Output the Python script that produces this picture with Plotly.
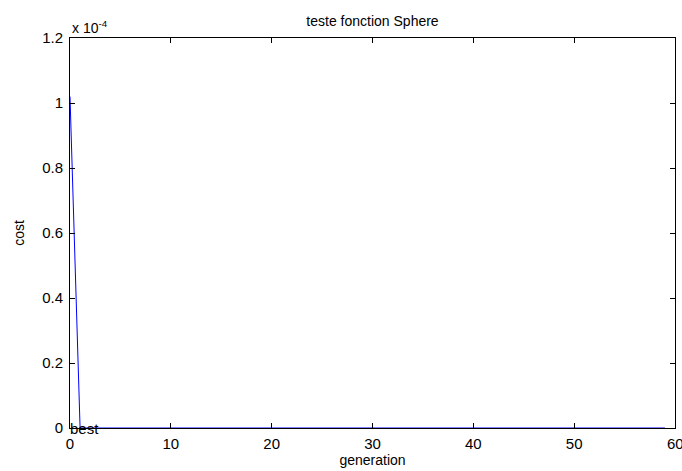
import plotly.graph_objects as go

generation = list(range(0, 60))
cost = [1.02e-4] + [0.0] * 59
y_tickvals = [0, 0.2e-4, 0.4e-4, 0.6e-4, 0.8e-4, 1.0e-4, 1.2e-4]
y_ticktext = ["0", "0.2", "0.4", "0.6", "0.8", "1", "1.2"]
x_tickvals = [0, 10, 20, 30, 40, 50]
x_ticktext = ["0", "10", "20", "30", "40", "50"]

FONT = "Liberation Sans"
TICK = 15

fig = go.Figure()
fig.add_trace(go.Scatter(x=generation, y=cost, mode="lines",
                         line=dict(color="#0000ff", width=1), showlegend=False))

axis_common = dict(showgrid=False, zeroline=False, showline=True, linecolor="black",
                   linewidth=1, mirror="ticks", ticks="inside", ticklen=5,
                   tickcolor="black", tickfont=dict(family=FONT, size=TICK, color="black"))

fig.update_layout(
    width=682, height=471,
    margin=dict(l=70, r=7, t=38, b=43),
    paper_bgcolor="white", plot_bgcolor="white",
    font=dict(family=FONT, color="black"),
    title=dict(text="teste fonction Sphere", x=(70 + 675) / 2 / 682, xanchor="center",
               y=1 - 21 / 471, yanchor="middle", font=dict(size=14, color="black")),
    xaxis=dict(range=[0, 60], tickvals=x_tickvals, ticktext=x_ticktext, ticklabelstandoff=2,
               title=dict(text="generation", font=dict(size=14), standoff=2), **axis_common),
    yaxis=dict(range=[0, 1.2e-4], tickvals=y_tickvals, ticktext=y_ticktext, ticklabelstandoff=3,
               title=dict(text="cost", font=dict(size=14), standoff=14), **axis_common),
)

# the last x tick label, partially cut by the page edge as in the reference
fig.add_annotation(x=60, y=0, xref="x", yref="paper", text="60", showarrow=False,
                   xanchor="center", yanchor="top", yshift=-5,
                   font=dict(size=TICK, color="black"))
fig.add_annotation(x=0, y=0, xref="x", yref="y", text="best", showarrow=False,
                   xanchor="left", yanchor="middle", xshift=-2, font=dict(size=TICK, color="black"))
fig.add_annotation(x=0, y=1, xref="paper", yref="paper", text="x 10<sup>-4</sup>",
                   showarrow=False, xanchor="left", yanchor="bottom", yshift=0,
                   font=dict(size=14, color="black"))

fig.write_html("out.html")
